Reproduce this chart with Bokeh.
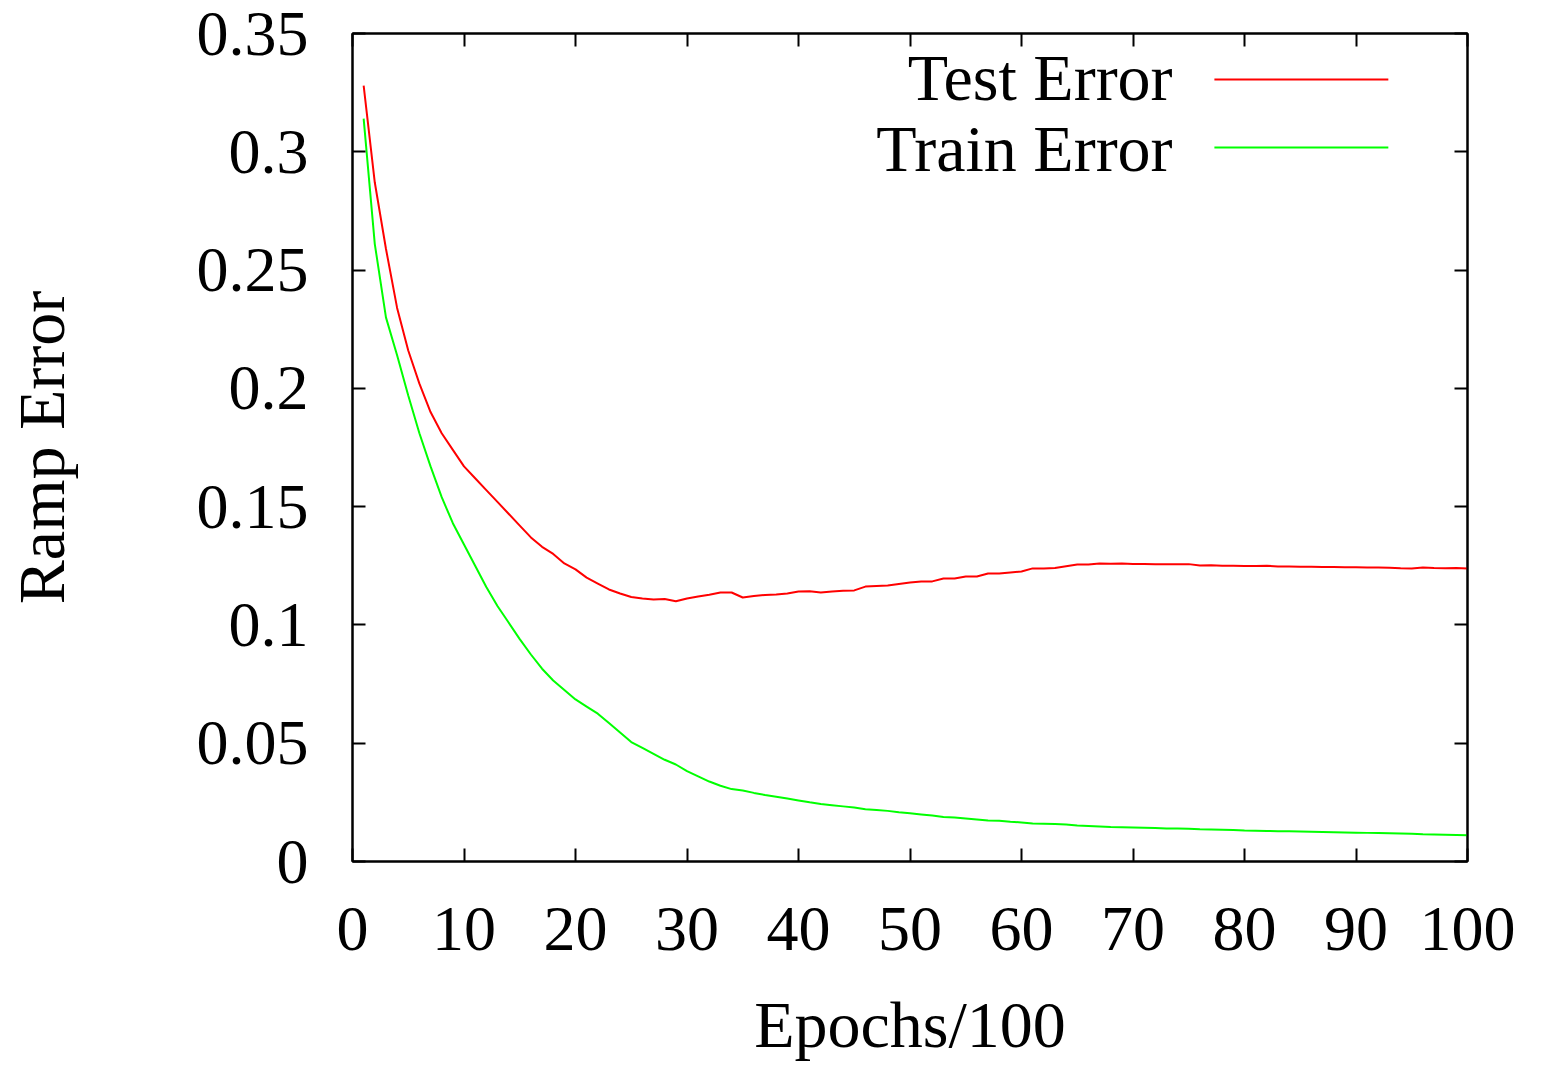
from bokeh.plotting import figure
from bokeh.models import Range1d, FixedTicker, LinearAxis, Label
from bokeh.embed import file_html
from bokeh.resources import INLINE

# ---------------- data ----------------
epochs = list(range(1, 101))

test_error = [
    0.328, 0.287, 0.259, 0.234, 0.216, 0.202, 0.190, 0.181, 0.174, 0.167,
    0.162, 0.157, 0.152, 0.147, 0.142, 0.137, 0.133, 0.130, 0.126, 0.1235,
    0.120, 0.1175, 0.115, 0.1133, 0.1118, 0.1112, 0.1107, 0.1110, 0.1100, 0.1112,
    0.1120, 0.1128, 0.1137, 0.1137, 0.1116, 0.1122, 0.1127, 0.1129, 0.1133, 0.1141,
    0.1142, 0.1137, 0.1141, 0.1144, 0.1146, 0.1162, 0.1165, 0.1167, 0.1173, 0.1179,
    0.1184, 0.1184, 0.1196, 0.1196, 0.1205, 0.1205, 0.1217, 0.1217, 0.1222, 0.1226,
    0.1239, 0.1239, 0.1241, 0.1248, 0.1255, 0.1255, 0.1260, 0.1259, 0.1260, 0.1258,
    0.1258, 0.1257, 0.1257, 0.1256, 0.1257, 0.1251, 0.1252, 0.1250, 0.1250, 0.1249,
    0.1249, 0.1250, 0.1247, 0.1247, 0.1246, 0.1246, 0.1245, 0.1245, 0.1244, 0.1244,
    0.1243, 0.1243, 0.1242, 0.1240, 0.1239, 0.1243, 0.1241, 0.1240, 0.1241, 0.1239,
]

train_error = [
    0.314, 0.261, 0.230, 0.214, 0.197, 0.181, 0.167, 0.154, 0.143, 0.134,
    0.125, 0.116, 0.108, 0.101, 0.094, 0.0875, 0.0815, 0.0765, 0.0725, 0.0685,
    0.0655, 0.0625, 0.0585, 0.0545, 0.0505, 0.0480, 0.0455, 0.0430, 0.0410, 0.0382,
    0.0360, 0.0338, 0.0320, 0.0306, 0.0300, 0.0290, 0.0281, 0.0274, 0.0266, 0.0258,
    0.0250, 0.0243, 0.0238, 0.0233, 0.0228, 0.0221, 0.0218, 0.0214, 0.0208, 0.0204,
    0.0199, 0.0194, 0.0188, 0.0186, 0.0182, 0.0178, 0.0173, 0.0172, 0.0168, 0.0165,
    0.0161, 0.0160, 0.0158, 0.0156, 0.0152, 0.0150, 0.0148, 0.0146, 0.0145, 0.0144,
    0.0143, 0.0142, 0.0140, 0.0139, 0.0138, 0.0136, 0.0135, 0.0134, 0.0133, 0.0131,
    0.0130, 0.0129, 0.0128, 0.0128, 0.0127, 0.0126, 0.0125, 0.0124, 0.0123, 0.0122,
    0.0121, 0.0120, 0.0119, 0.0118, 0.0117, 0.0115, 0.0114, 0.0113, 0.0112, 0.0111,
]

x_ticks = [0, 10, 20, 30, 40, 50, 60, 70, 80, 90, 100]
y_ticks = [0, 0.05, 0.1, 0.15, 0.2, 0.25, 0.3, 0.35]
y_tick_labels = ["0", "0.05", "0.1", "0.15", "0.2", "0.25", "0.3", "0.35"]

series_names = ["Test Error", "Train Error"]
series_colors = ["#ff0000", "#00ff00"]

# ---------------- figure ----------------
FONT = "Liberation Serif"

p = figure(
    width=1548, height=1065,
    output_backend="svg", toolbar_location=None,
    x_range=Range1d(0, 100), y_range=Range1d(0, 0.35),
    min_border_left=352, min_border_right=81,
    min_border_top=33, min_border_bottom=204,
    background_fill_color="white", border_fill_color="white",
)
p.grid.visible = False
p.outline_line_color = "black"
p.outline_line_width = 2

xax = p.xaxis[0]
yax = p.yaxis[0]
xax.ticker = FixedTicker(ticks=x_ticks)
yax.ticker = FixedTicker(ticks=y_ticks)
yax.major_label_overrides = {t: l for t, l in zip(y_ticks, y_tick_labels)}
xax.major_label_overrides = {t: str(t) for t in x_ticks}

for ax in (xax, yax):
    ax.axis_line_color = "black"
    ax.axis_line_width = 2
    ax.major_tick_in = 13
    ax.major_tick_out = 0
    ax.major_tick_line_width = 2
    ax.major_tick_line_color = "black"
    ax.minor_tick_line_color = None
    ax.major_label_text_font = FONT
    ax.major_label_text_font_size = "64px"
    ax.major_label_text_color = "black"
    ax.axis_label_text_font = FONT
    ax.axis_label_text_font_size = "66px"
    ax.axis_label_text_font_style = "normal"
    ax.axis_label_text_color = "black"

xax.axis_label = "Epochs/100"
yax.axis_label = "Ramp Error"
xax.major_label_standoff = 46
yax.major_label_standoff = 44
xax.axis_label_standoff = 35
yax.axis_label_standoff = 116

# mirrored ticks on top and right
for side, ticks in (("above", x_ticks), ("right", y_ticks)):
    ax = LinearAxis(ticker=FixedTicker(ticks=ticks))
    ax.axis_line_color = "black"
    ax.axis_line_width = 2
    ax.major_tick_in = 13
    ax.major_tick_out = 0
    ax.major_tick_line_width = 2
    ax.minor_tick_line_color = None
    ax.major_label_text_font_size = "0px"
    ax.major_label_text_color = None
    ax.major_label_standoff = 0
    p.add_layout(ax, side)

# ---------------- curves ----------------
p.line(epochs, test_error, line_color=series_colors[0], line_width=2)
p.line(epochs, train_error, line_color=series_colors[1], line_width=2)

# ---------------- legend (text left of sample line) ----------------
legend_text_x = 73.55
legend_line_x = (77.3, 92.9)
legend_text_y = [0.3316, 0.3014]
legend_line_y = [0.3306, 0.3018]
for name, color, ty, ly in zip(series_names, series_colors, legend_text_y, legend_line_y):
    p.add_layout(Label(x=legend_text_x, y=ty, text=name, text_align="right",
                       text_baseline="alphabetic", text_font=FONT,
                       text_font_size="66px", text_color="black"))
    p.segment(x0=[legend_line_x[0]], y0=[ly], x1=[legend_line_x[1]], y1=[ly],
              line_color=color, line_width=2)

open("out.html", "w").write(file_html(p, INLINE))
